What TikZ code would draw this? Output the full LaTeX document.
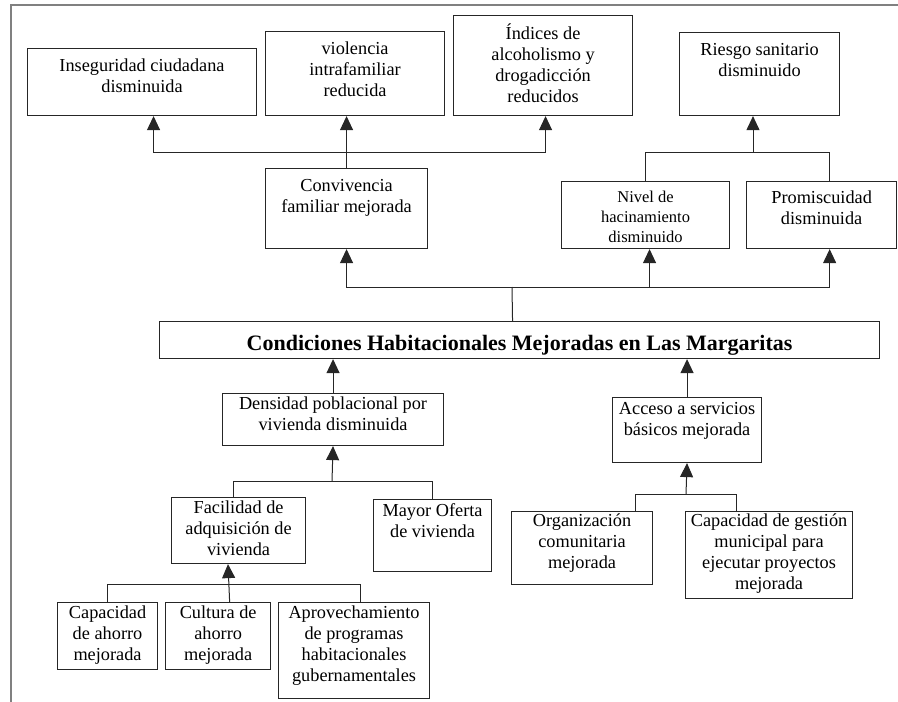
\documentclass[tikz,border=0pt]{standalone}
\usepackage{fontspec}
\setmainfont{Liberation Serif}
\usetikzlibrary{positioning, arrows.meta}

% box text: width, height, gap above, lines
\newcommand{\celltext}[4]{\parbox[c][#2][t]{#1}{\centering\vspace*{#3}\strut#4\strut}}

\begin{document}
\begin{tikzpicture}[x=1pt, y=-1pt,
        box/.style = {draw, black!85, text=black, line width=1.1pt, inner sep=0pt, anchor=north west, font=\fontsize{18.3}{21}\selectfont},
        arrow/.style = {-{Triangle[length=14pt, width=13pt]}, black!85, line width=1pt},
        link/.style = {black!85, line width=1pt}
    ]
        \useasboundingbox (0,0) rectangle (898,702);
        \draw[gray, line width=2pt] (11,702) -- (11,5) -- (898,5);

        % effects
        \node[box] (inseg) at (27,48) {\celltext{229pt}{67pt}{8.3pt}{Inseguridad ciudadana\\disminuida}};
        \node[box] (viol) at (265,31) {\celltext{179pt}{84pt}{8.3pt}{violencia\\intrafamiliar\\reducida}};
        \node[box] (indices) at (453,15) {\celltext{179pt}{100pt}{8.3pt}{Índices de\\alcoholismo y\\drogadicción\\reducidos}};
        \node[box] (riesgo) at (679,32) {\celltext{160pt}{83pt}{8.3pt}{Riesgo sanitario\\disminuido}};
        \node[box] (conv) at (265,168) {\celltext{162pt}{80pt}{8.3pt}{Convivencia\\familiar mejorada}};
        \node[box, font=\fontsize{16.5}{20}\selectfont] (nivel) at (561,181) {\celltext{168pt}{67pt}{6.5pt}{Nivel de\\hacinamiento\\disminuido}};
        \node[box, anchor=center, right=16pt of nivel] (promisc) {\celltext{150pt}{67pt}{7.3pt}{Promiscuidad\\disminuida}};

        % purpose
        \node[box, font=\fontsize{22}{26}\bfseries\selectfont] (cond) at (159,321) {\celltext{720pt}{37pt}{10.8pt}{Condiciones Habitacionales Mejoradas en Las Margaritas}};

        % means
        \node[box] (dens) at (222,393) {\celltext{221pt}{52pt}{1.3pt}{Densidad poblacional por\\vivienda disminuida}};
        \node[box] (acceso) at (612,397) {\celltext{149pt}{65pt}{2.3pt}{Acceso a servicios\\básicos mejorada}};
        \node[box] (facil) at (171,497) {\celltext{134pt}{66pt}{1.3pt}{Facilidad de\\adquisición de\\vivienda}};
        \node[box] (mayor) at (373,499) {\celltext{118pt}{72pt}{2.3pt}{Mayor Oferta\\de vivienda}};
        \node[box] (capahorro) at (57,602) {\celltext{100pt}{67pt}{1.3pt}{Capacidad\\de ahorro\\mejorada}};
        \node[box, anchor=center, right=7pt of capahorro] (cultura) {\celltext{105pt}{67pt}{1.3pt}{Cultura de\\ahorro\\mejorada}};
        \node[box] (aprov) at (278,602) {\celltext{151pt}{96pt}{1.3pt}{Aprovechamiento\\de programas\\habitacionales\\gubernamentales}};
        \node[box] (organiz) at (511,511) {\celltext{141pt}{73pt}{0.3pt}{Organización\\comunitaria\\mejorada}};
        \node[box] (capgest) at (685,511) {\celltext{167pt}{87pt}{0.3pt}{Capacidad de gestión\\municipal para\\ejecutar proyectos\\mejorada}};

        % joints
        \coordinate (effects) at (346,152);
        \coordinate (hazard) at (753,152);
        \coordinate (mid) at (512,287);
        \coordinate (housing) at (332,481);
        \coordinate (buying) at (228,584);
        \coordinate (services) at (686,494);

        \draw[arrow] (conv.north) -- (conv.north |- viol.south);
        \draw[arrow] (effects) -| ([xshift=11.5pt]inseg.south);
        \draw[arrow] (effects) -| ([xshift=2.5pt]indices.south);

        \draw[link] (nivel.north) |- ([xshift=8pt]promisc.north |- hazard) -- ([xshift=8pt]promisc.north);
        \draw[arrow] (hazard) -- (hazard |- riesgo.south);

        \draw[link] ([xshift=-7pt]cond.north) -- (mid);
        \draw[arrow] (mid) -| (conv.south);
        \draw[arrow] ([xshift=4pt]nivel.south |- mid) -- ([xshift=4pt]nivel.south);
        \draw[arrow] (mid) -| ([xshift=8pt]promisc.south);

        \draw[arrow] (dens.north) -- (dens.north |- cond.south);
        \draw[arrow] (acceso.north) -- (acceso.north |- cond.south);

        \draw[arrow] (housing) -- (dens.south);
        \draw[link] ([xshift=-5pt]facil.north) |- (mayor.north |- housing) -- (mayor.north);

        \draw[arrow] ([xshift=11.5pt]cultura.north) -- (buying |- facil.south);
        \draw[link] (capahorro.north) |- ([xshift=6.5pt]aprov.north |- buying) -- ([xshift=6.5pt]aprov.north);

        \draw[arrow] (services) -- (acceso.south);
        \draw[link] ([xshift=53.5pt]organiz.north) |- ([xshift=-32.5pt]capgest.north |- services) -- ([xshift=-32.5pt]capgest.north);
    \end{tikzpicture}
\end{document}
